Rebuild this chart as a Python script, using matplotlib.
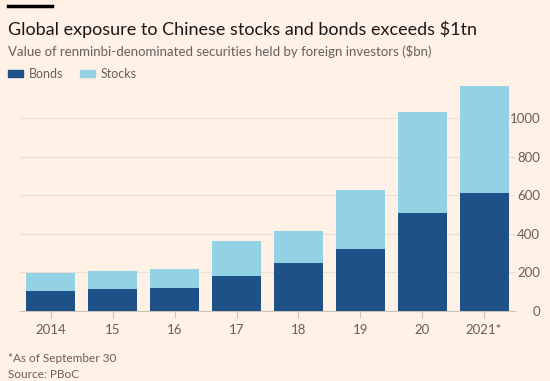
import matplotlib
matplotlib.use("Agg")
import matplotlib.pyplot as plt
import numpy as np

categories = ["2014", "15", "16", "17", "18", "19", "20", "2021*"]
bonds = [105, 114, 121, 181, 247, 323, 509, 610]
totals = [195, 207, 216, 363, 415, 627, 1033, 1166]
stocks = [t - b for t, b in zip(totals, bonds)]
yticks = [0, 200, 400, 600, 800, 1000]

BG = "#fff1e5"
C_BONDS = "#1f5189"
C_STOCKS = "#93d1e5"
TXT = "#66605c"
plt.rcParams['font.family'] = ['Lato', 'DejaVu Sans']

fig = plt.figure(figsize=(5.5, 3.81), dpi=100, facecolor=BG)
W, H = 550, 381
ax = fig.add_axes([20 / W, 70 / H, (515 - 20) / W, (311 - 79.4) / H])
ax.set_facecolor(BG)

x = np.arange(len(categories))
ax.bar(x, bonds, width=0.79, color=C_BONDS, zorder=3)
ax.bar(x, stocks, width=0.79, bottom=bonds, color=C_STOCKS, zorder=3)

ax.set_xlim(-0.5, len(categories) - 0.5)
ax.set_ylim(0, 1200)
ax.set_yticks(yticks)
ax.yaxis.tick_right()
ax.set_yticklabels([str(v) for v in yticks], ha='right')
ax.tick_params(axis='y', length=0, pad=18, labelsize=9.5, colors=TXT)
ax.set_xticks(x)
ax.set_xticklabels(categories)
ax.tick_params(axis='x', length=5, width=0.8, color="#ccc1b7", pad=4, labelsize=9.5, labelcolor=TXT)
ax.grid(axis='y', color="#eadfd3", linewidth=0.8, zorder=0)
for s in ["top", "right", "left"]:
    ax.spines[s].set_visible(False)
ax.spines["bottom"].set_color("#ccc1b7")
ax.spines["bottom"].set_linewidth(0.8)

# header
fig.add_artist(plt.Line2D([8 / W, 52 / W], [1 - 6 / H, 1 - 6 / H], color="black", linewidth=2.5))
fig.text(8 / W, 1 - 29 / H, "Global exposure to Chinese stocks and bonds exceeds \\$1tn",
         fontsize=13, color="#1a1817", va='center', ha='left')
fig.text(8 / W, 1 - 52 / H, "Value of renminbi-denominated securities held by foreign investors (\\$bn)",
         fontsize=9.5, color=TXT, va='center', ha='left')
# legend
fig.patches.append(plt.Rectangle((8 / W, 1 - 77 / H), 15 / W, 7 / H, transform=fig.transFigure,
                                 color=C_BONDS, figure=fig))
fig.text(29 / W, 1 - 74 / H, "Bonds", fontsize=9, color=TXT, va='center', ha='left')
fig.patches.append(plt.Rectangle((80 / W, 1 - 77 / H), 15 / W, 7 / H, transform=fig.transFigure,
                                 color=C_STOCKS, figure=fig))
fig.text(101 / W, 1 - 74 / H, "Stocks", fontsize=9, color=TXT, va='center', ha='left')

fig.text(8 / W, 1 - 359 / H, "*As of September 30", fontsize=8.5, color=TXT, va='center', ha='left')
fig.text(8 / W, 1 - 374 / H, "Source: PBoC", fontsize=8.5, color=TXT, va='center', ha='left')

fig.savefig("out.png", dpi=100, facecolor=BG)
